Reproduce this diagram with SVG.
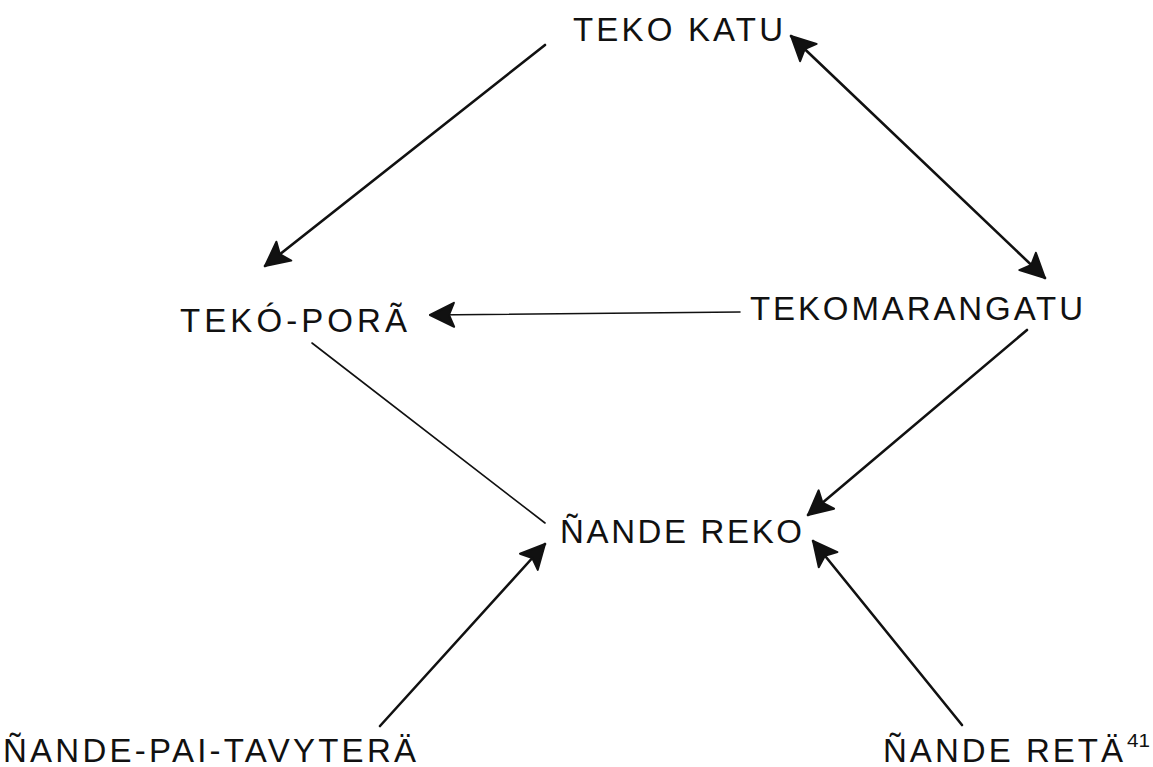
<svg xmlns="http://www.w3.org/2000/svg" width="1153" height="767" viewBox="0 0 1153 767">
  <style>
    .label { font-family: "Liberation Sans", Arial, sans-serif; font-size: 33px; fill: #111; }
    .sup { font-family: "Liberation Sans", Arial, sans-serif; font-size: 18px; fill: #111; }
    .arrow { stroke: #111; stroke-width: 2.6; fill: none; stroke-linecap: round; }
    .thin { stroke: #111; stroke-width: 1.6; fill: none; stroke-linecap: round; }
  </style>
  <defs>
    <marker id="head" markerUnits="userSpaceOnUse" markerWidth="34" markerHeight="30" viewBox="-29 -15 34 30" refX="0" refY="0" orient="auto-start-reverse">
      <path d="M0,0 L-24,-12 L-19,0 L-24,12 Z" fill="#111" stroke="#111" stroke-width="2" stroke-linejoin="round"/>
    </marker>
  </defs>
  <rect width="1153" height="767" fill="#fff"/>

  <g id="connectors">
    <line class="arrow" x1="545" y1="45" x2="265" y2="266" marker-end="url(#head)"/>
    <line class="arrow" x1="791" y1="36" x2="1045" y2="278" marker-start="url(#head)" marker-end="url(#head)"/>
    <line class="thin" x1="740" y1="312" x2="430" y2="315" marker-end="url(#head)"/>
    <line class="thin" x1="312" y1="343" x2="545" y2="523"/>
    <line class="arrow" x1="1027" y1="330" x2="808" y2="515" marker-end="url(#head)"/>
    <line class="arrow" x1="380" y1="726" x2="545" y2="544" marker-end="url(#head)"/>
    <line class="arrow" x1="962" y1="725" x2="813" y2="541" marker-end="url(#head)"/>
  </g>

  <g id="teko-katu">
    <text class="label" x="573" y="41" textLength="210" lengthAdjust="spacing">TEKO KATU</text>
  </g>
  <g id="teko-pora">
    <text class="label" x="180" y="332" textLength="227" lengthAdjust="spacing">TEKÓ-PORÃ</text>
  </g>
  <g id="tekomarangatu">
    <text class="label" x="750" y="320" textLength="333" lengthAdjust="spacing">TEKOMARANGATU</text>
  </g>
  <g id="nande-reko">
    <text class="label" x="560" y="543" textLength="242" lengthAdjust="spacing">ÑANDE REKO</text>
  </g>
  <g id="nande-pai-tavytera">
    <text class="label" x="3" y="762" textLength="413" lengthAdjust="spacing">ÑANDE-PAI-TAVYTERÄ</text>
  </g>
  <g id="nande-reta">
    <text class="label" x="883" y="762" textLength="240" lengthAdjust="spacing">ÑANDE RETÄ</text>
    <text class="sup" x="1127" y="747" textLength="23" lengthAdjust="spacingAndGlyphs">41</text>
  </g>
</svg>
